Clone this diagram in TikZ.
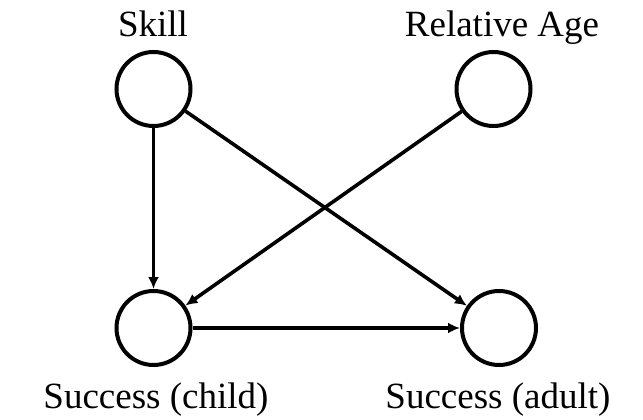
\documentclass[tikz,border=0pt]{standalone}
\usepackage{fontspec}
\setmainfont{Liberation Serif}
\usetikzlibrary{arrows.meta}
\begin{document}
\begin{tikzpicture}[x=1pt, y=-1pt,
   var/.style={draw, circle, line width=4pt, minimum size=74pt, inner sep=0pt},
   varlabel/.style={anchor=base, inner sep=0pt, font=\fontsize{37}{44}\selectfont},
   edge/.style={line width=3.6pt, -{Latex[length=12pt, width=11pt]}}]
      \useasboundingbox (0,0) rectangle (643,420);
      \def \Vertices {
         s/153.5/89,
         r/493.5/89,
         c/153.5/328,
         a/499/328}
      \def \Labels {
         s/153/37/Skill,
         r/502/37/Relative Age,
         c/156/408/Success (child),
         a/498/408/Success (adult)}
      \def \Edges {
         s/c,
         s/a,
         r/c,
         c/a}
      \foreach \u / \x / \y in \Vertices {
         \node[var] (\u) at (\x, \y) {};
      }
      \foreach \u / \x / \y / \t in \Labels {
         \node[varlabel] (\u-label) at (\x, \y) {\t};
      }
      \foreach \u / \v in \Edges {
         \path[draw, edge] (\u) -- (\v);
      }
   \end{tikzpicture}
\end{document}
